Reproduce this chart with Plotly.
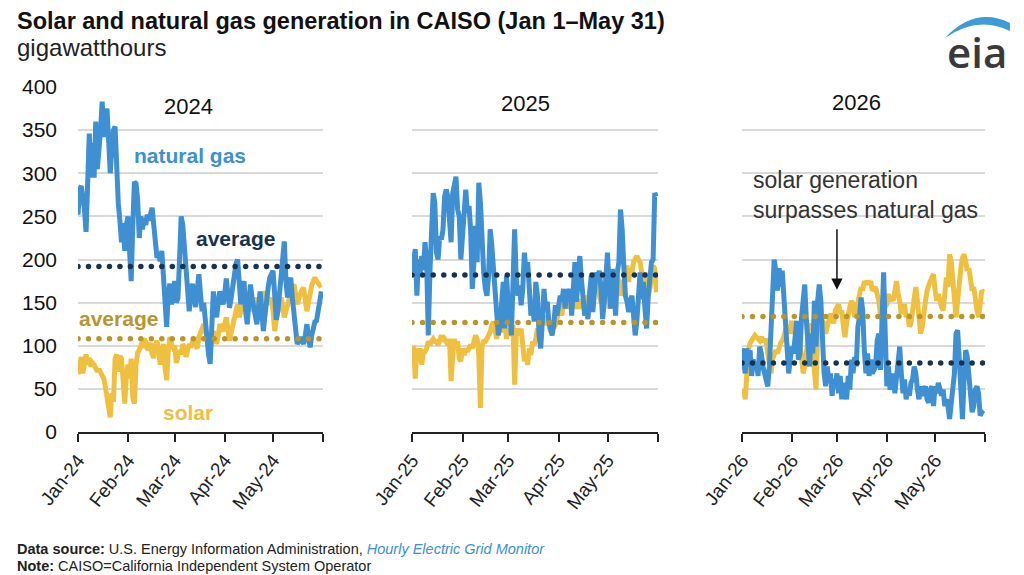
import pandas as pd
import plotly.graph_objects as go

# ---------------- data (gigawatthours, daily, Jan 1 - May 31) ----------------
gas_2024 = [252,282,285,275,258,232,300,346,295,335,
            295,360,305,325,350,383,342,365,375,338,
            300,330,350,354,300,265,245,220,242,210,
            240,250,210,175,240,290,288,270,225,250,
            235,248,240,252,245,255,260,240,215,202,
            205,198,210,175,145,122,160,172,148,160,
            175,150,155,200,250,240,215,195,165,140,
            158,172,155,145,165,183,160,140,150,125,
            105,90,79,120,163,145,133,150,163,155,
            148,160,178,160,144,155,171,180,195,200,
            160,148,165,175,140,125,150,171,155,144,
            135,125,145,163,140,117,135,156,168,179,
            183,187,160,130,140,163,185,210,221,175,
            156,170,179,155,133,115,102,105,110,106,
            102,112,125,110,98,112,125,128,129,140,
            155,163]
solar_2024 = [67,82,87,68,85,90,78,86,76,80,
              78,72,70,73,70,67,62,52,40,28,
              17,45,35,85,90,70,88,85,60,33,
              65,78,62,85,40,33,78,92,95,100,
              98,108,105,95,100,103,90,86,100,106,
              95,78,92,102,75,60,95,110,102,98,
              100,80,88,95,90,102,98,87,95,102,
              98,106,110,100,97,110,117,120,125,118,
              110,100,94,108,117,110,102,112,125,120,
              117,125,133,120,106,115,125,135,145,148,
              133,140,156,150,144,155,163,150,140,148,
              156,145,133,140,148,155,163,155,148,152,
              156,140,117,130,144,150,156,145,133,140,
              148,155,163,168,171,160,148,155,163,165,
              167,150,140,150,163,170,175,179,175,172,
              170,171]
gas_2025 = [185,204,212,158,200,185,204,188,220,197,
            112,185,220,277,266,208,200,227,223,234,
            273,281,273,250,220,277,292,296,258,250,
            200,234,242,281,254,262,234,166,197,239,
            197,289,266,216,185,166,158,181,235,216,
            185,160,135,112,123,158,174,120,181,151,139,
            112,177,235,177,158,170,147,166,208,185,
            197,166,135,147,128,174,158,112,97,128,
            166,143,151,128,120,112,124,147,135,151,
            158,151,166,143,166,151,166,135,166,197,
            151,180,204,177,158,135,143,131,158,181,139,
            158,185,177,187,166,131,151,177,208,166,
            143,189,166,135,185,197,258,235,193,158,
            151,139,151,158,135,112,128,174,185,154,
            174,143,120,158,177,197,200,277,273]
solar_2025 = [89,100,62,97,81,97,78,93,93,97,
              105,101,105,108,105,105,101,108,112,105,
              108,105,101,108,59,89,108,97,105,85,
              82,97,89,97,93,97,101,97,105,112,
              108,89,28,101,105,105,108,112,116,124,
              128,118,108,120,128,116,120,124,108,120,112,
              120,124,55,112,120,112,120,105,82,89,
              78,97,89,105,101,108,120,112,124,128,
              124,135,131,120,116,128,120,124,135,139,
              143,135,151,143,151,143,154,147,158,151,
              143,148,154,143,151,143,158,151,166,174,158,
              166,177,181,158,151,166,174,158,166,143,
              158,174,151,166,181,174,158,166,181,185,
              193,174,189,185,197,200,204,200,197,185,
              158,185,174,158,166,185,193,189,162]
gas_2026 = [97,84,68,97,76,95,65,84,76,80,
            65,99,91,76,68,61,53,76,122,171,
            200,187,164,190,168,187,152,114,76,68,
            84,99,91,118,129,84,91,133,160,171,
            129,100,76,114,91,152,99,152,171,152,95,
            68,53,76,57,68,42,61,53,68,45,
            65,38,57,49,38,65,49,84,68,87,
            76,122,133,156,141,95,68,91,65,84,
            68,72,76,106,114,72,152,185,114,53,76,
            49,57,68,45,65,91,99,68,45,61,
            38,49,42,57,61,76,68,49,38,53,
            42,49,53,38,34,49,53,30,53,45,
            57,50,42,49,30,38,30,15,30,45,68,
            114,118,84,45,15,61,95,87,68,45,
            23,30,49,53,45,19,23,21]
solar_2026 = [42,49,38,76,95,103,106,110,112,110,
              108,106,110,106,106,106,91,76,68,84,
              91,95,91,99,103,106,110,118,122,114,
              126,129,114,122,95,118,103,87,68,76,
              95,110,126,114,95,68,49,114,122,114,129,
              126,114,122,129,137,133,126,141,145,148,
              137,141,122,110,126,141,145,152,148,133,
              141,152,160,168,164,175,171,175,171,175,
              164,166,168,160,152,137,129,152,145,148,160,
              152,156,152,164,175,160,152,137,141,148,
              133,137,122,126,141,152,168,152,122,114,
              122,133,152,164,171,175,179,183,164,152,
              160,150,145,141,171,179,168,206,198,179,152,
              133,152,179,190,202,206,198,187,190,171,
              164,168,152,141,133,148,164,162]

years = [2024, 2025, 2026]
gas_avg = [192, 182, 80]
solar_avg = [108, 127, 134]
month_labels = ["Jan", "Feb", "Mar", "Apr", "May"]
y_ticks = [0, 50, 100, 150, 200, 250, 300, 350, 400]

gas_series = [gas_2024, gas_2025, gas_2026]
solar_series = [solar_2024, solar_2025, solar_2026]

# ---------------- style ----------------
GAS = "#3F8FD3"
SOLAR = "#EFC03F"
NAVY = "#17334F"
GOLD = "#B8952E"
GRID = "#D9D9D9"
FONT = "Liberation Sans, Arial, sans-serif"
W, H = 1024, 575

def px(x):
    return x / W

def py(y):
    return 1 - y / H

x_domains = [(78, 323), (412, 658), (742, 985)]
y_domain = [py(432), py(87)]

fig = go.Figure()
layout = dict(
    width=W, height=H, margin=dict(l=0, r=0, t=0, b=0, autoexpand=False),
    paper_bgcolor="white", plot_bgcolor="white", showlegend=False,
    font=dict(family=FONT, color="#222222"),
)

for i, yr in enumerate(years):
    sfx = "" if i == 0 else str(i + 1)
    xa, ya = "x" + sfx, "y" + sfx
    dates_g = pd.date_range(f"{yr}-01-01", periods=len(gas_series[i]), freq="D")
    dates_s = pd.date_range(f"{yr}-01-01", periods=len(solar_series[i]), freq="D")
    fig.add_trace(go.Scatter(x=dates_s, y=solar_series[i], mode="lines",
                             line=dict(color=SOLAR, width=5), xaxis=xa, yaxis=ya,
                             hoverinfo="skip"))
    fig.add_trace(go.Scatter(x=dates_g, y=gas_series[i], mode="lines",
                             line=dict(color=GAS, width=5), xaxis=xa, yaxis=ya,
                             hoverinfo="skip"))
    dots = pd.date_range(f"{yr}-01-01", f"{yr}-05-31", freq="156h")
    fig.add_trace(go.Scatter(x=dots, y=[gas_avg[i]] * len(dots), mode="markers",
                             marker=dict(color=NAVY, size=5.5), xaxis=xa, yaxis=ya,
                             hoverinfo="skip"))
    fig.add_trace(go.Scatter(x=dots, y=[solar_avg[i]] * len(dots), mode="markers",
                             marker=dict(color=GOLD, size=5.5), xaxis=xa, yaxis=ya,
                             hoverinfo="skip"))

    tickvals = [f"{yr}-{m:02d}-01" for m in range(1, 7)]
    ticktext = [f"{mn}-{str(yr)[2:]}" for mn in month_labels] + [""]
    layout["xaxis" + sfx] = dict(
        domain=[px(x_domains[i][0]), px(x_domains[i][1])], anchor=ya,
        range=[f"{yr}-01-01", f"{yr}-06-01"], tickvals=tickvals, ticktext=ticktext,
        ticks="outside", ticklen=8, tickwidth=1.5, tickcolor="#222222",
        showline=True, linecolor="#222222", linewidth=1.5, showgrid=False,
        zeroline=False, tickangle=-52, tickfont=dict(size=19, color="#222222"),
        fixedrange=True, automargin=False,
    )
    layout["yaxis" + sfx] = dict(
        domain=y_domain, anchor=xa, range=[0, 400], tickvals=y_ticks,
        showgrid=True, gridcolor=GRID, gridwidth=1.5, zeroline=False,
        showline=False, ticks="", showticklabels=(i == 0),
        tickfont=dict(size=21, color="#111111"), ticklabelstandoff=20,
        fixedrange=True, automargin=False,
    )

fig.update_layout(**layout)

ann = []
def label(x, y, text, size=19, color="#222222", xanchor="center", bold=False, align="center"):
    t = f"<b>{text}</b>" if bold else text
    ann.append(dict(x=px(x), y=py(y), xref="paper", yref="paper", text=t,
                    showarrow=False, xanchor=xanchor, yanchor="middle", align=align,
                    font=dict(size=size, color=color, family=FONT)))

# titles
label(15, 21, "Solar and natural gas generation in CAISO (Jan 1–May 31)", size=23.5,
      color="#111111", xanchor="left", bold=True)
label(15, 47, "gigawatthours", size=24, color="#222222", xanchor="left")

# panel labels
label(188, 106, "2024", size=22, color="#111111")
label(525, 104, "2025", size=22, color="#111111")
label(856, 102, "2026", size=22, color="#111111")
label(190, 155, "natural gas", size=21, color=GAS, bold=True)
label(235, 238, "average", size=21, color=NAVY, bold=True)
label(118, 318, "average", size=21, color=GOLD, bold=True)
label(188, 412, "solar", size=21, color=SOLAR, bold=True)
label(751, 195, "solar generation<br>surpasses natural gas", size=23, color="#333333",
      xanchor="left", align="left")

# arrow
ann.append(dict(x="2026-03-01", y=165, xref="x3", yref="y3", text="", showarrow=True,
                ax=0, ay=-62, arrowhead=2, arrowsize=1.5, arrowwidth=1.5,
                arrowcolor="#111111", standoff=0))

# footer
FOOT = "Liberation Sans Narrow, Arial Narrow, Liberation Sans, sans-serif"
ann.append(dict(x=px(15), y=py(549), xref="paper", yref="paper", showarrow=False,
                xanchor="left", yanchor="middle",
                text="<b>Data source:</b> U.S. Energy Information Administration, "
                     "<i><span style='color:#3A8FD6'>Hourly Electric Grid Monitor</span></i>",
                font=dict(size=14.5, color="#222222", family=FOOT)))
ann.append(dict(x=px(15), y=py(566), xref="paper", yref="paper", showarrow=False,
                xanchor="left", yanchor="middle",
                text="<b>Note:</b> CAISO=California Independent System Operator",
                font=dict(size=14.5, color="#222222", family=FOOT)))

# eia logo
ann.append(dict(x=px(977), y=py(52), xref="paper", yref="paper", showarrow=False,
                xanchor="center", yanchor="middle", text="eia",
                font=dict(size=42, color="#3A3A3A", weight=600,
                          family="Open Sans, Liberation Sans, sans-serif")))
swoosh = (f"M {px(945)},{py(38)} Q {px(975)},{py(6)} {px(1010)},{py(23)} "
          f"L {px(1010)},{py(31)} Q {px(978)},{py(15)} {px(945)},{py(38)} Z")
fig.add_shape(type="path", path=swoosh, xref="paper", yref="paper",
              fillcolor="#3D9BD8", line=dict(width=0))

fig.update_layout(annotations=ann)
fig.write_html("out.html")
